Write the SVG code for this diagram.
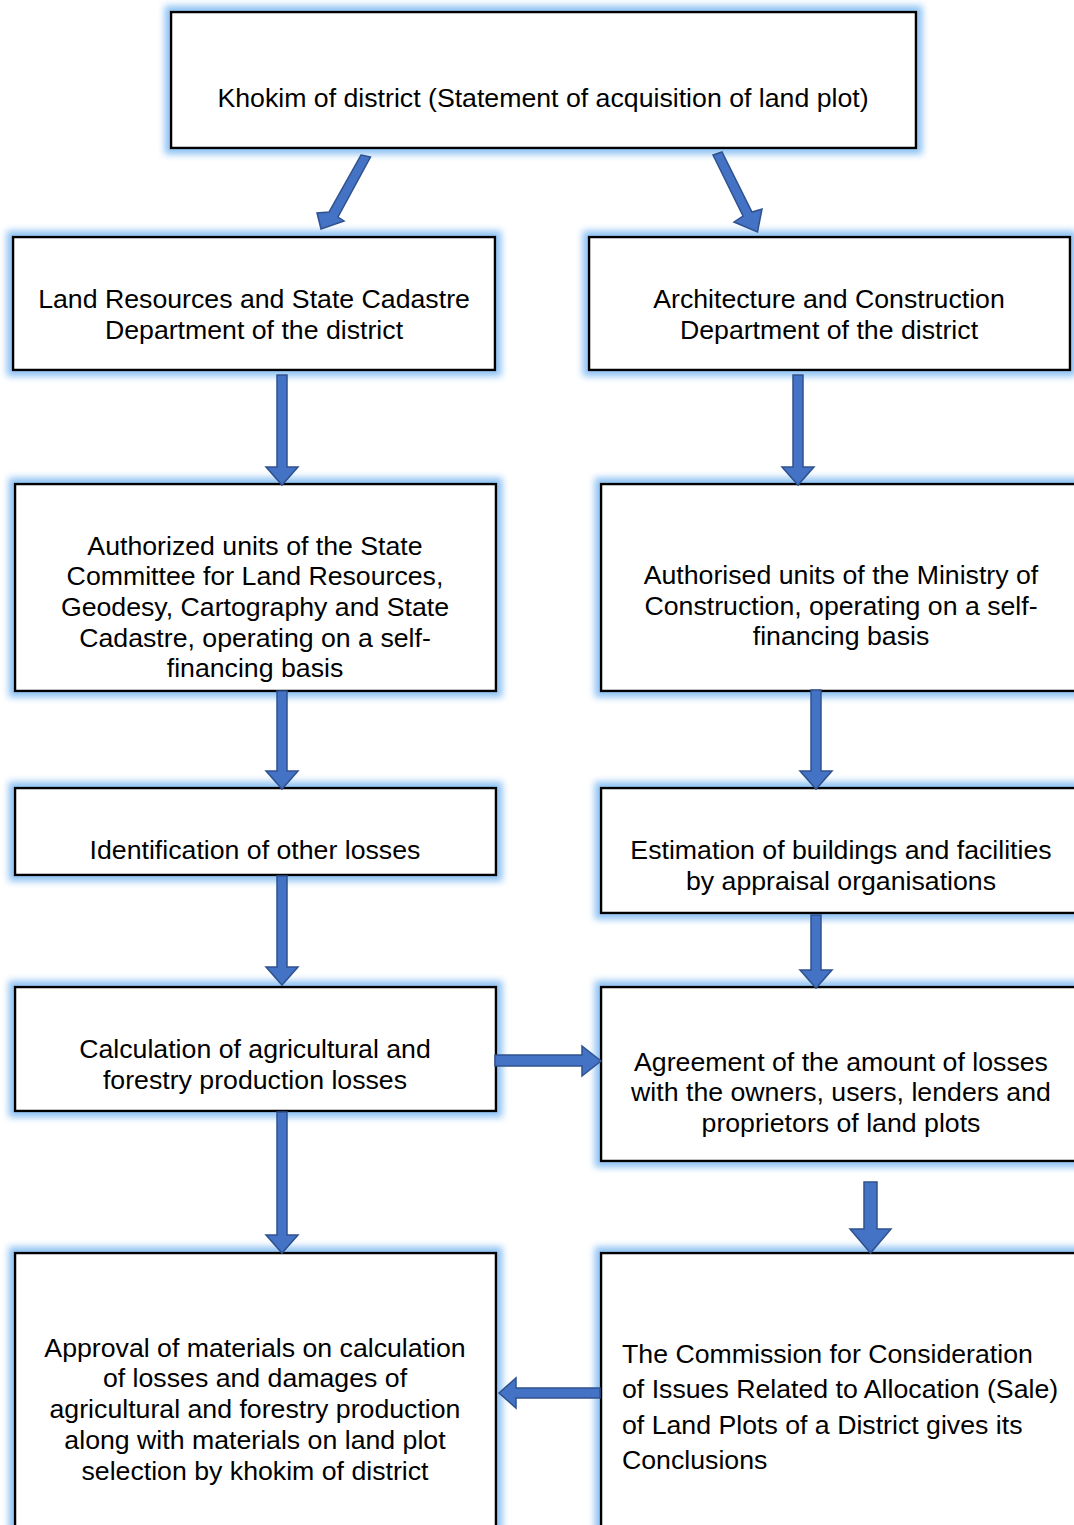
<svg xmlns="http://www.w3.org/2000/svg" width="1074" height="1525" viewBox="0 0 1074 1525">
<defs>
<filter id="glow" x="-10%" y="-20%" width="120%" height="140%">
<feMorphology in="SourceAlpha" operator="dilate" radius="5" result="d"/>
<feGaussianBlur in="d" stdDeviation="3.5" result="b"/>
<feFlood flood-color="#8cc1f4"/>
<feComposite in2="b" operator="in" result="g"/>
<feMerge><feMergeNode in="g"/><feMergeNode in="SourceGraphic"/></feMerge>
</filter>
</defs>
<style>
.box{fill:#ffffff;stroke:#000000;stroke-width:2.5;filter:url(#glow)}
.t{font-family:"Liberation Sans",Arial,sans-serif;font-size:26.7px;fill:#000000}
.c{text-anchor:middle}
.arr{fill:#4472c4;stroke:#2f528f;stroke-width:1.5;stroke-linejoin:miter}
</style>
<rect width="1074" height="1525" fill="#ffffff"/>
<g id="n1"><rect class="box" x="171" y="12" width="745" height="136"/>
<text class="t c" x="543" y="107">Khokim of district (Statement of acquisition of land plot)</text></g>
<g id="n2"><rect class="box" x="13" y="237" width="482" height="133"/>
<text class="t c" x="254" y="308">Land Resources and State Cadastre</text>
<text class="t c" x="254" y="339">Department of the district</text></g>
<g id="n3"><rect class="box" x="589" y="237" width="481" height="133"/>
<text class="t c" x="829" y="308">Architecture and Construction</text>
<text class="t c" x="829" y="339">Department of the district</text></g>
<g id="n4"><rect class="box" x="15" y="484" width="481" height="207"/>
<text class="t c" x="255" y="555">Authorized units of the State</text>
<text class="t c" x="255" y="585">Committee for Land Resources,</text>
<text class="t c" x="255" y="616">Geodesy, Cartography and State</text>
<text class="t c" x="255" y="647">Cadastre, operating on a self-</text>
<text class="t c" x="255" y="677">financing basis</text></g>
<g id="n5"><rect class="box" x="601" y="484" width="480" height="207"/>
<text class="t c" x="841" y="584">Authorised units of the Ministry of</text>
<text class="t c" x="841" y="615">Construction, operating on a self-</text>
<text class="t c" x="841" y="645">financing basis</text></g>
<g id="n6"><rect class="box" x="15" y="788" width="481" height="87"/>
<text class="t c" x="255" y="859">Identification of other losses</text></g>
<g id="n7"><rect class="box" x="601" y="788" width="480" height="125"/>
<text class="t c" x="841" y="859">Estimation of buildings and facilities</text>
<text class="t c" x="841" y="890">by appraisal organisations</text></g>
<g id="n8"><rect class="box" x="15" y="987" width="481" height="124"/>
<text class="t c" x="255" y="1058">Calculation of agricultural and</text>
<text class="t c" x="255" y="1089">forestry production losses</text></g>
<g id="n9"><rect class="box" x="601" y="987" width="480" height="174"/>
<text class="t c" x="841" y="1071">Agreement of the amount of losses</text>
<text class="t c" x="841" y="1101">with the owners, users, lenders and</text>
<text class="t c" x="841" y="1132">proprietors of land plots</text></g>
<g id="n10"><rect class="box" x="15" y="1253" width="481" height="290"/>
<text class="t c" x="255" y="1357">Approval of materials on calculation</text>
<text class="t c" x="255" y="1387">of losses and damages of</text>
<text class="t c" x="255" y="1418">agricultural and forestry production</text>
<text class="t c" x="255" y="1449">along with materials on land plot</text>
<text class="t c" x="255" y="1480">selection by khokim of district</text></g>
<g id="n11"><rect class="box" x="601" y="1253" width="480" height="290"/>
<text class="t" x="622" y="1363">The Commission for Consideration</text>
<text class="t" x="622" y="1398">of Issues Related to Allocation (Sale)</text>
<text class="t" x="622" y="1434">of Land Plots of a District gives its</text>
<text class="t" x="622" y="1469">Conclusions</text></g>
<g id="connectors">
<polygon class="arr" points="361,155 370.5,157 338,217 344,221 321,229 317,213 329,212"/>
<polygon class="arr" points="713,155 722,152 752,212 762,209 757.5,232 734,222 743,216"/>
<polygon class="arr" points="277,375 287,375 287,467 298,467 282,485 266,467 277,467"/>
<polygon class="arr" points="793,375 803,375 803,467 814,467 798,485 782,467 793,467"/>
<polygon class="arr" points="277,691 287,691 287,771 298,771 282,789 266,771 277,771"/>
<polygon class="arr" points="811,690 821,690 821,771 832,771 816,789 800,771 811,771"/>
<polygon class="arr" points="277,876 287,876 287,967 298,967 282,985 266,967 277,967"/>
<polygon class="arr" points="811,915 821,915 821,970 832,970 816,988 800,970 811,970"/>
<polygon class="arr" points="277,1112 287,1112 287,1235 298,1235 282,1253 266,1235 277,1235"/>
<polygon class="arr" points="864,1182 877,1182 877,1229 891,1229 870.5,1253 850,1229 864,1229"/>
<polygon class="arr" points="495,1055 582,1055 582,1046 601,1061 582,1076 582,1066 495,1066"/>
<polygon class="arr" points="600,1388 516,1388 516,1378 499,1393 516,1408 516,1398 600,1398"/>
</g>
</svg>
